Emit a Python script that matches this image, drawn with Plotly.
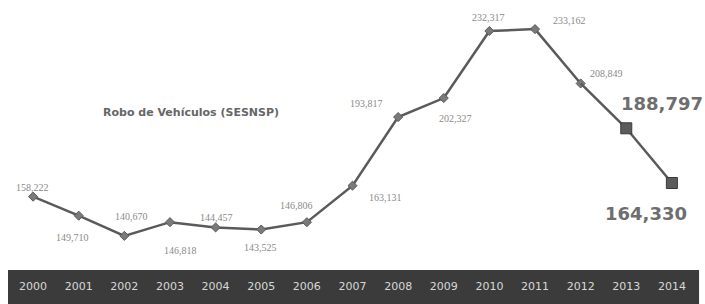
import plotly.graph_objects as go

years = [2000, 2001, 2002, 2003, 2004, 2005, 2006, 2007, 2008, 2009, 2010, 2011, 2012, 2013, 2014]
robos = [158222, 149710, 140670, 146818, 144457, 143525, 146806, 163131, 193817, 202327, 232317, 233162, 208849, 188797, 164330]
labels = ["158,222", "149,710", "140,670", "146,818", "144,457", "143,525", "146,806", "163,131",
          "193,817", "202,327", "232,317", "233,162", "208,849", "188,797", "164,330"]
title_text = "Robo de Vehículos (SESNSP)"

# label offsets in pixels (x right, y up)
offs = [(-1, 9), (-6, -22), (7, 19), (11, -28), (1, 10), (-1, -18), (-10, 17), (33, -12),
        (-32, 14), (12, -20), (-1, 14), (34, 9), (26, 10), (36, 25), (-26, -30)]

fig = go.Figure()
fig.add_trace(go.Scatter(
    x=years[:13], y=robos[:13], mode="lines+markers",
    line=dict(color="#5a5a5a", width=2.5),
    marker=dict(symbol="diamond", size=7, color="#7a7a7a", line=dict(color="#5a5a5a", width=1)),
    hoverinfo="skip", showlegend=False))
fig.add_trace(go.Scatter(
    x=years[12:], y=robos[12:], mode="lines",
    line=dict(color="#5a5a5a", width=2.5), hoverinfo="skip", showlegend=False))
fig.add_trace(go.Scatter(
    x=years[13:], y=robos[13:], mode="markers",
    marker=dict(symbol="square", size=11, color="#5c5c5c", line=dict(color="#3a3a3a", width=1)),
    hoverinfo="skip", showlegend=False))

for i, (yr, v, lab) in enumerate(zip(years, robos, labels)):
    big = i >= 13
    fig.add_annotation(
        x=yr, y=v, text=lab, showarrow=False,
        xshift=offs[i][0], yshift=offs[i][1],
        font=dict(family="DejaVu Sans" if big else "Liberation Serif",
                  size=18 if big else 10,
                  color="#6e6e6e" if big else "#8a8a8a",
                  weight="bold" if big else "normal"))

fig.add_annotation(
    xref="paper", yref="paper", x=(191 - 8) / 689, y=(254 - 113) / 244,
    xanchor="center", yanchor="middle",
    text="<b>" + title_text + "</b>", showarrow=False,
    font=dict(family="DejaVu Sans", size=11, color="#666666"))

fig.add_shape(type="rect", xref="paper", yref="paper", x0=0, x1=1.003,
              y0=(254 - 270) / 244, y1=(254 - 304) / 244,
              fillcolor="#3b3b3b", line=dict(width=0), layer="below")

fig.update_layout(
    width=705, height=304,
    margin=dict(l=8, r=8, t=10, b=50),
    paper_bgcolor="white", plot_bgcolor="white",
    xaxis=dict(range=[1999.45, 2014.55], tickmode="array", tickvals=years,
               ticktext=[str(y) for y in years], showgrid=False, zeroline=False,
               showline=False, ticks="", ticklabelstandoff=24,
               tickfont=dict(family="DejaVu Sans", size=11, color="#d8d8d8")),
    yaxis=dict(range=[132574, 241710], visible=False, showgrid=False),
)

fig.write_html("out.html", config={"displayModeBar": False},
               post_script="document.body.style.margin='0';document.body.style.overflow='hidden';")
